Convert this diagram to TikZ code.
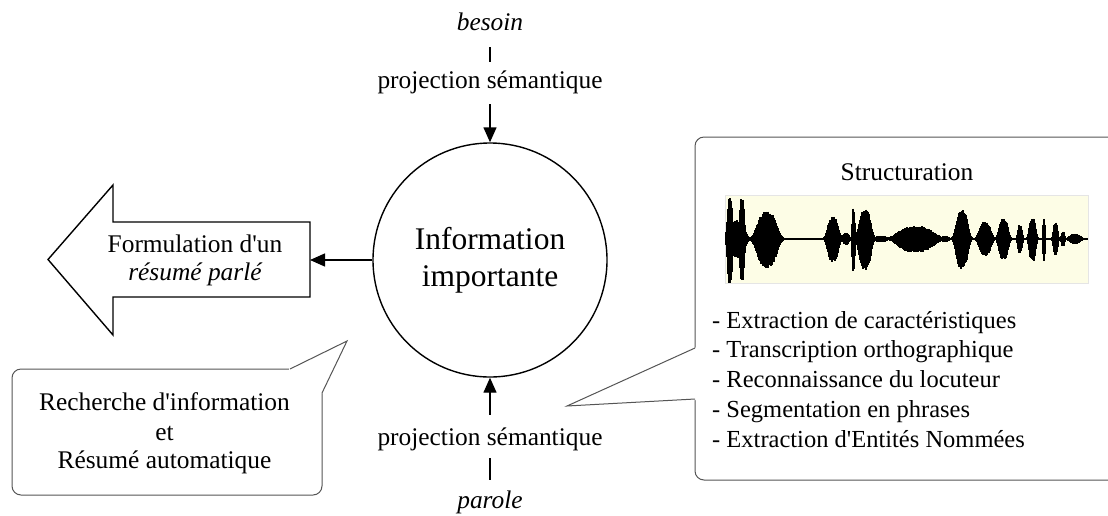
\documentclass[tikz,border=0pt]{standalone}
\usepackage{fontspec}
\setmainfont{Liberation Serif}[Ligatures=TeXOff]
\usetikzlibrary{arrows.meta}
\definecolor{wavebg}{HTML}{FDFDE6}
\definecolor{calloutc}{HTML}{555555}
\pgfmathdeclarefunction{bmp}{3}{\pgfmathparse{exp(-(min(abs(#1-#2)/#3,3))^3)}}
\tikzset{
  txt/.style={font=\fontsize{25.4}{29}\selectfont, inner sep=0pt, anchor=base, text height=19pt, text depth=6.35pt},
  itxt/.style={txt, font=\itshape\fontsize{25.4}{29}\selectfont},
  ltxt/.style={font=\fontsize{24.5}{29}\selectfont, inner sep=0pt, anchor=base west},
  conn/.style={line width=1.4pt, -{Triangle[length=15pt,width=13pt]}},
  plainline/.style={line width=1.4pt},
  bubble/.style={draw=calloutc, line width=1pt, fill=white, rounded corners=9pt},
  tailline/.style={draw=calloutc, line width=1pt, line join=miter},
}
\begin{document}
\begin{tikzpicture}[x=1pt,y=-1pt]
\useasboundingbox (0,0) rectangle (1108,515);
\clip (0,0) rectangle (1108,515);

% central circle
\node[circle, draw, line width=1.4pt, minimum size=234pt, inner sep=0pt, align=center,
      font=\fontsize{31.5}{37}\selectfont] (info) at (490,260) {Information\\importante};

% top chain
\node[itxt] (besoin) at (490,30) {besoin};
\node[txt] (projT) at (490,88) {projection sémantique};
\draw[plainline, shorten <=10.65pt, shorten >=6.95pt] (besoin.south) -- (projT.north);
\draw[conn, shorten <=9.65pt] (projT.south) -- (info.north);

% bottom chain
\node[txt] (projB) at (490,445) {projection sémantique};
\node[itxt] (parole) at (490,508) {parole};
\draw[conn, shorten <=10.95pt] (projB.north) -- (info.south);
\draw[plainline, shorten <=6.65pt, shorten >=8.95pt] (projB.south) -- (parole.north);

% big left arrow
\draw[line width=1.4pt, fill=white, line join=miter]
  (310,222) -- (113,222) -- (113,185) -- (48,259.5) -- (113,335) -- (113,297) -- (310,297) -- cycle;
\coordinate (fR) at (310,260);
\node[txt] (f1) at (195,252) {Formulation d'un};
\node[itxt] (f2) at (195,280) {résumé parlé};
\draw[conn] (info.west) -- (fR);

% left callout
\draw[bubble] (12,369) rectangle (322,495);
\fill[white] (289,367) -- (347,341) -- (324.5,393) -- (316,393) -- (316,372) -- (289,372) -- cycle;
\draw[tailline] (290,369) -- (347,341) -- (322,393);
\node[txt] (r1) at (164.5,410) {Recherche d'information};
\node[txt] (r2) at (164.5,440) {et};
\node[txt] (r3) at (164.5,468) {Résumé automatique};

% right callout
\draw[bubble] (695,137) rectangle (1125,480);
\fill[white] (697,347) -- (567,406) -- (697,400) -- cycle;
\draw[tailline] (695,348) -- (567,406) -- (695,399);
\node[txt] (struct) at (907,180) {Structuration};

% waveform
\node[draw=black!10, fill=wavebg, minimum width=363pt, minimum height=88pt, inner sep=0pt] (wave) at (906.5,239) {};
\pgfmathsetseed{7}
\foreach \x in {726,727,...,1087} {
  \pgfmathsetmacro\e{max(43*bmp(\x,730,3.2), 41*bmp(\x,742,3), 19*bmp(\x,736,10),
     28*bmp(\x,767,11.5), 22*bmp(\x,833,6.5), 6*bmp(\x,846,4), 31*bmp(\x,853.5,1.8),
     30*bmp(\x,865,7), 3*bmp(\x,881,8), 13*bmp(\x,916,21), 3*bmp(\x,945,5),
     29*bmp(\x,962,7), 17*bmp(\x,985,7), 21*bmp(\x,1003.5,5.5), 14*bmp(\x,1020,2.8),
     22*bmp(\x,1032.5,4), 23*bmp(\x,1044,1.3), 17*bmp(\x,1055.5,2.7), 8*bmp(\x,1063,2),
     5*bmp(\x,1075,7))}
  \pgfmathsetmacro\u{\e*(0.86+0.14*rnd)}
  \pgfmathsetmacro\d{\e*1.06*(0.86+0.14*rnd)}
  \draw[line width=1.1pt] (\x,238.8-\u) -- (\x,238.8+\d);
}
\draw[line width=1.8pt] (725,238.8) -- (1088,238.8);

% list
\foreach \t [count=\i] in {- Extraction de caractéristiques, - Transcription orthographique,
   - Reconnaissance du locuteur, - Segmentation en phrases, - Extraction d'Entités Nommées} {
  \node[ltxt] (l\i) at (712,{328+(\i-1)*29.75}) {\t};
}
\end{tikzpicture}
\end{document}
